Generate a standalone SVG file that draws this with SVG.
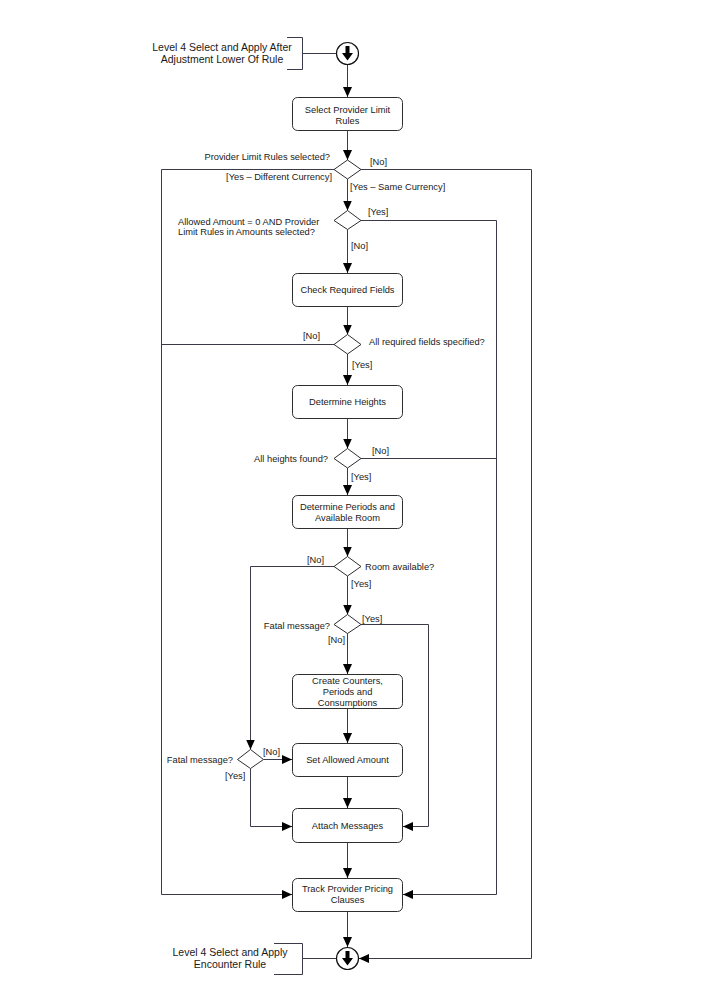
<svg xmlns="http://www.w3.org/2000/svg" width="711" height="1003" viewBox="0 0 711 1003">
<style>
.bg{fill:#ffffff}
.box{fill:#ffffff;stroke:#2e2e2e;stroke-width:1}
.dia{fill:#ffffff;stroke:#2e2e2e;stroke-width:1}
.ln{fill:none;stroke:#3a3a48;stroke-width:1}
.t{font-family:"Liberation Sans",Arial,sans-serif;font-size:9.3px;fill:#1a1a1a}
.ann{font-family:"Liberation Sans",Arial,sans-serif;font-size:10.5px;fill:#1a1a1a}
.c{text-anchor:middle}
.e{text-anchor:end}
.circ{fill:#ffffff;stroke:#111;stroke-width:1.2}
.ar{fill:#000}
</style>
<defs>
<marker id="arr" markerUnits="userSpaceOnUse" markerWidth="10" markerHeight="10" viewBox="0 0 10 10" refX="10" refY="5" orient="auto">
<path d="M0,0.5 L10,5 L0,9.5 Z" fill="#000"/>
</marker>
</defs>
<rect class="bg" x="0" y="0" width="711" height="1003"/>

<g id="connectors">
<line class="ln" x1="347.5" y1="64" x2="347.5" y2="97" marker-end="url(#arr)"/>
<line class="ln" x1="347.5" y1="131" x2="347.5" y2="160" marker-end="url(#arr)"/>
<line class="ln" x1="347.5" y1="179" x2="347.5" y2="210.5" marker-end="url(#arr)"/>
<polyline class="ln" points="334,169.5 161.5,169.5 161.5,894.5 292,894.5" marker-end="url(#arr)"/>
<polyline class="ln" points="361,169.5 531.5,169.5 531.5,958.5 359,958.5" marker-end="url(#arr)"/>
<line class="ln" x1="347.5" y1="229.5" x2="347.5" y2="273" marker-end="url(#arr)"/>
<polyline class="ln" points="361,220.5 496.5,220.5 496.5,894.5 403,894.5" marker-end="url(#arr)"/>
<line class="ln" x1="347.5" y1="307" x2="347.5" y2="334.5" marker-end="url(#arr)"/>
<line class="ln" x1="334" y1="344.5" x2="161.5" y2="344.5"/>
<line class="ln" x1="347.5" y1="354" x2="347.5" y2="385" marker-end="url(#arr)"/>
<line class="ln" x1="347.5" y1="419" x2="347.5" y2="448.5" marker-end="url(#arr)"/>
<line class="ln" x1="361" y1="458.5" x2="496.5" y2="458.5"/>
<line class="ln" x1="347.5" y1="468" x2="347.5" y2="495" marker-end="url(#arr)"/>
<line class="ln" x1="347.5" y1="529" x2="347.5" y2="556.5" marker-end="url(#arr)"/>
<polyline class="ln" points="334,566.5 250.5,566.5 250.5,749.5" marker-end="url(#arr)"/>
<line class="ln" x1="347.5" y1="576" x2="347.5" y2="614.5" marker-end="url(#arr)"/>
<polyline class="ln" points="361,624.5 428.5,624.5 428.5,826.5 403,826.5" marker-end="url(#arr)"/>
<line class="ln" x1="347.5" y1="633.5" x2="347.5" y2="674" marker-end="url(#arr)"/>
<line class="ln" x1="347.5" y1="709" x2="347.5" y2="743" marker-end="url(#arr)"/>
<line class="ln" x1="263.5" y1="759.5" x2="292" y2="759.5" marker-end="url(#arr)"/>
<polyline class="ln" points="250.5,768.5 250.5,826.5 292,826.5" marker-end="url(#arr)"/>
<line class="ln" x1="347.5" y1="777" x2="347.5" y2="808" marker-end="url(#arr)"/>
<line class="ln" x1="347.5" y1="843" x2="347.5" y2="878" marker-end="url(#arr)"/>
<line class="ln" x1="347.5" y1="912" x2="347.5" y2="947" marker-end="url(#arr)"/>
</g>

<g id="start">
<polyline class="ln" points="287,37.5 302.5,37.5 302.5,69.5 287,69.5"/>
<line class="ln" x1="302.5" y1="53.5" x2="336.5" y2="53.5"/>
<circle class="circ" cx="347.5" cy="53.5" r="11"/>
<path class="ar" d="M345.5,46 L349.5,46 L349.5,53 L353,53 L347.5,60.5 L342,53 L345.5,53 Z"/>
<text class="ann c" x="222" y="51">Level 4 Select and Apply After</text>
<text class="ann c" x="222" y="63">Adjustment Lower Of Rule</text>
</g>

<g id="n-select">
<rect class="box" x="292.5" y="97.5" width="110" height="33" rx="5"/>
<text class="t c" x="347.5" y="113">Select Provider Limit</text>
<text class="t c" x="347.5" y="124">Rules</text>
</g>

<g id="d-selected">
<polygon class="dia" points="347.5,160 361,169.5 347.5,179 334,169.5"/>
<text class="t e" x="330" y="160">Provider Limit Rules selected?</text>
<text class="t" x="370" y="165">[No]</text>
<text class="t e" x="332" y="180">[Yes – Different Currency]</text>
<text class="t" x="350" y="190">[Yes – Same Currency]</text>
</g>

<g id="d-allowed">
<polygon class="dia" points="347.5,210.5 361,220.5 347.5,229.5 334,220.5"/>
<text class="t" x="178" y="224.5">Allowed Amount = 0 AND Provider</text>
<text class="t" x="178" y="234.5">Limit Rules in Amounts selected?</text>
<text class="t" x="368" y="215">[Yes]</text>
<text class="t" x="351" y="249">[No]</text>
</g>

<g id="n-check">
<rect class="box" x="292.5" y="273.5" width="110" height="33" rx="5"/>
<text class="t c" x="347.5" y="293">Check Required Fields</text>
</g>

<g id="d-fields">
<polygon class="dia" points="347.5,334.5 361,344.5 347.5,354 334,344.5"/>
<text class="t" x="303" y="338.5">[No]</text>
<text class="t" x="369" y="345">All required fields specified?</text>
<text class="t" x="352" y="367.5">[Yes]</text>
</g>

<g id="n-heights">
<rect class="box" x="292.5" y="385.5" width="110" height="33" rx="5"/>
<text class="t c" x="347.5" y="405">Determine Heights</text>
</g>

<g id="d-heights">
<polygon class="dia" points="347.5,448.5 361,458.5 347.5,468 334,458.5"/>
<text class="t" x="372" y="453.5">[No]</text>
<text class="t e" x="328" y="461.5">All heights found?</text>
<text class="t" x="351" y="479.5">[Yes]</text>
</g>

<g id="n-periods">
<rect class="box" x="292.5" y="495.5" width="110" height="33" rx="5"/>
<text class="t c" x="347.5" y="510">Determine Periods and</text>
<text class="t c" x="347.5" y="521">Available Room</text>
</g>

<g id="d-room">
<polygon class="dia" points="347.5,556.5 361,566.5 347.5,576 334,566.5"/>
<text class="t" x="307" y="562.5">[No]</text>
<text class="t" x="365" y="569.5">Room available?</text>
<text class="t" x="351" y="586.5">[Yes]</text>
</g>

<g id="d-fatal1">
<polygon class="dia" points="347.5,614.5 361,624.5 347.5,633.5 334,624.5"/>
<text class="t" x="362" y="621.5">[Yes]</text>
<text class="t e" x="330" y="628.5">Fatal message?</text>
<text class="t" x="328" y="642.5">[No]</text>
</g>

<g id="n-create">
<rect class="box" x="292.5" y="674.5" width="110" height="34" rx="5"/>
<text class="t c" x="347.5" y="683.5">Create Counters,</text>
<text class="t c" x="347.5" y="695">Periods and</text>
<text class="t c" x="347.5" y="706">Consumptions</text>
</g>

<g id="d-fatal2">
<polygon class="dia" points="250.5,749.5 263.5,759.5 250.5,768.5 237.5,759.5"/>
<text class="t e" x="233" y="762.5">Fatal message?</text>
<text class="t" x="263" y="755">[No]</text>
<text class="t" x="225" y="778.5">[Yes]</text>
</g>

<g id="n-setallowed">
<rect class="box" x="292.5" y="743.5" width="110" height="33" rx="5"/>
<text class="t c" x="347.5" y="763">Set Allowed Amount</text>
</g>

<g id="n-attach">
<rect class="box" x="292.5" y="808.5" width="110" height="34" rx="5"/>
<text class="t c" x="347.5" y="829">Attach Messages</text>
</g>

<g id="n-track">
<rect class="box" x="292.5" y="878.5" width="110" height="33" rx="5"/>
<text class="t c" x="347.5" y="892">Track Provider Pricing</text>
<text class="t c" x="347.5" y="903">Clauses</text>
</g>

<g id="end">
<polyline class="ln" points="274,943.5 302.5,943.5 302.5,974.5 274,974.5"/>
<line class="ln" x1="302.5" y1="958.5" x2="336.5" y2="958.5"/>
<circle class="circ" cx="347.5" cy="958.5" r="11"/>
<path class="ar" d="M345.5,951 L349.5,951 L349.5,958 L353,958 L347.5,965.5 L342,958 L345.5,958 Z"/>
<text class="ann c" x="230" y="956">Level 4 Select and Apply</text>
<text class="ann c" x="230" y="968">Encounter Rule</text>
</g>
</svg>
